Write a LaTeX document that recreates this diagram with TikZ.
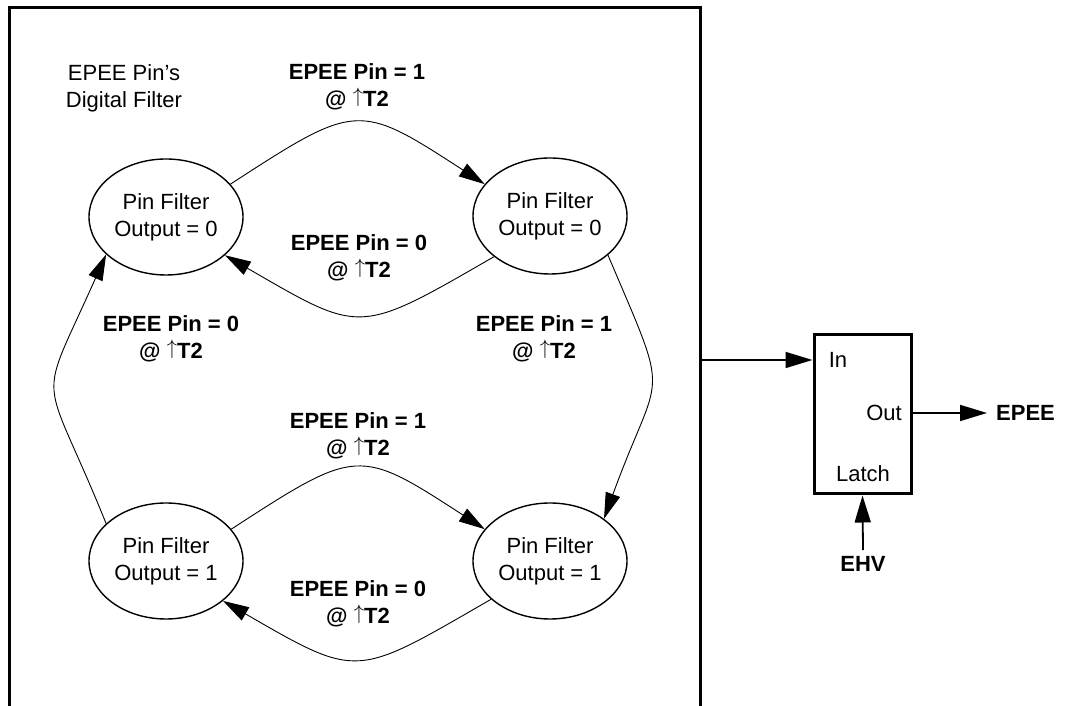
\documentclass[tikz,border=0pt]{standalone}
\usepackage{fontspec}
\setmainfont{Liberation Sans}
\usetikzlibrary{arrows.meta, shapes.geometric, positioning}
\newcommand{\risetick}{{\mdseries\raisebox{4pt}{$\uparrow$}}}

\begin{document}
\begin{tikzpicture}[x=1pt, y=1pt,
    state/.style={ellipse, draw, line width=1.4pt, minimum width=154pt, minimum height=116pt, inner sep=0pt, align=center, font=\fontsize{22}{27}\selectfont},
    cond/.style={align=center, inner sep=0pt, font=\fontsize{22}{27}\selectfont\bfseries},
    plain/.style={inner sep=0pt, font=\fontsize{22}{27}\selectfont},
    trans/.style={line width=0.9pt, -{Triangle[length=26pt, width=15pt]}},
    wire/.style={line width=1.8pt, -{Triangle[length=27pt, width=16pt]}}]
  \useasboundingbox (0,0) rectangle (1068,706);

  % Marco del filtro digital
  \draw[line width=3pt] (9,-10) -- (9,698) -- (700,698) -- (700,-10);
  \node[plain, align=center] (title) at (124,618) {EPEE Pin’s\\Digital Filter};

  % Estados del filtro
  \node[state] (lowA) at (166,489) {Pin Filter\\Output = 0};
  \node[state] (lowB) at (550,490) {Pin Filter\\Output = 0};
  \node[state] (highA) at (166,145) {Pin Filter\\Output = 1};
  \node[state] (highB) at (550,145) {Pin Filter\\Output = 1};

  % Condiciones de transicion
  \node[cond] (c1) at (357,619) {EPEE Pin = 1\\@ \risetick T2};
  \node[cond] (c2) at (359,448) {EPEE Pin = 0\\@ \risetick T2};
  \node[cond] (c3) at (171,367) {EPEE Pin = 0\\@ \risetick T2};
  \node[cond] (c4) at (544,367) {EPEE Pin = 1\\@ \risetick T2};
  \node[cond] (c5) at (358,270) {EPEE Pin = 1\\@ \risetick T2};
  \node[cond] (c6) at (358,102) {EPEE Pin = 0\\@ \risetick T2};

  % Transiciones
  \draw[trans] (lowA.27) to[out=33, in=147, looseness=1.52] (lowB.154);
  \draw[trans] (lowB.216) to[out=210, in=330, looseness=1.5] (lowA.327);
  \draw[trans] (highA.148) to[out=112, in=246, looseness=1.65] (lowA.212);
  \draw[trans] (lowB.326) to[out=293, in=70, looseness=1.6] (highB.38);
  \draw[trans] (highA.26) to[out=33, in=147, looseness=1.52] (highB.154);
  \draw[trans] (highB.213) to[out=210, in=330, looseness=1.5] (highA.325);

  % Latch de salida
  \node[draw, line width=3pt, minimum width=97pt, minimum height=159pt, inner sep=0pt] (latch) at (862.5,291.5) {};
  \node[plain] (pin) at (838,346) {In};
  \node[plain] (pout) at (884,293) {Out};
  \node[plain] (plat) at (863,232) {Latch};
  \coordinate (tap) at (700,346);
  \draw[wire] (tap) -- (tap -| latch.west);

  \node[plain, font=\fontsize{22}{27}\selectfont\bfseries, anchor=west] (epee) at (996,293) {EPEE};
  \draw[wire, shorten >=9pt] (latch.east |- pout) -- (epee.west);

  \node[plain, font=\fontsize{22}{27}\selectfont\bfseries] (ehv) at (863,142) {EHV};
  \draw[wire] ([yshift=6pt]ehv.north) -- (latch.south);
\end{tikzpicture}
\end{document}
